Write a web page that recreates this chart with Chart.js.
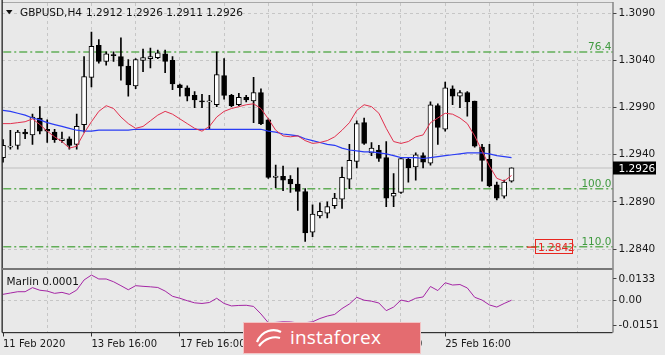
<!DOCTYPE html>
<html><head><meta charset="utf-8">
<script src="https://cdn.jsdelivr.net/npm/chart.js@4.4.1/dist/chart.umd.min.js"></script>
<style>
html,body{margin:0;padding:0;background:#e9e9e9;}
#wrap{position:relative;width:665px;height:355px;overflow:hidden;background:#e9e9e9;}
#c1{position:absolute;left:0;top:0;}
#c2{position:absolute;left:0;top:270px;}
#wm{position:absolute;left:243px;top:322px;width:178px;height:32px;box-sizing:border-box;background:#e46c70;border:1px solid #f3c4c5;z-index:5;}
#wm span{position:absolute;left:46px;top:0;line-height:29px;color:#fff;font-family:"Open Sans",sans-serif;font-size:19px;letter-spacing:0.2px;}
#wm svg{position:absolute;left:10px;top:3px;}
</style></head>
<body><div id="wrap">
<canvas id="c1" width="665" height="270"></canvas>
<canvas id="c2" width="665" height="85"></canvas>
<div id="wm"><svg width="30" height="24" viewBox="0 0 30 24"><path d="M3 16 C8 4, 20 2, 27 6" stroke="#fff" stroke-width="2.2" fill="none"/><path d="M5 20 C11 12, 20 10, 26 12" stroke="#fff" stroke-width="2.2" fill="none"/></svg><span>instaforex</span></div>
</div>
<script>
// ---- data ----
const SYMBOL = 'GBPUSD,H4';
const OPEN  = [1.2937,1.2948,1.2950,1.2964,1.2961,1.2979,1.2967,1.2964,1.2955,1.2957,1.2951,1.2972,1.3022,1.3056,1.3039,1.3046,1.3044,1.3034,1.3013,1.3040,1.3042,1.3043,1.3047,1.3040,1.3014,1.3011,1.3003,1.2997,1.2996,1.2993,1.3024,1.3003,1.2993,1.3001,1.2997,1.3006,1.2977,1.2916,1.2917,1.2914,1.2909,1.2901,1.2858,1.2875,1.2878,1.2886,1.2893,1.2914,1.2933,1.2974,1.2942,1.2945,1.2937,1.2896,1.2900,1.2935,1.2927,1.2939,1.2931,1.2992,1.2967,1.3010,1.3002,1.3006,1.2997,1.2948,1.2935,1.2908,1.2896,1.2912];
const HIGH  = [1.2956,1.2966,1.2966,1.2967,1.2983,1.2991,1.2977,1.2967,1.2964,1.2959,1.2983,1.3044,1.3070,1.3062,1.3049,1.3049,1.3064,1.3041,1.3042,1.3052,1.3053,1.3051,1.3051,1.3044,1.3015,1.3013,1.3007,1.3004,1.3003,1.3049,1.3042,1.3004,1.3005,1.3003,1.3022,1.3010,1.2978,1.2929,1.2928,1.2918,1.2926,1.2904,1.2887,1.2889,1.2890,1.2899,1.2927,1.2951,1.2976,1.2979,1.2953,1.2950,1.2954,1.2920,1.2937,1.2937,1.2942,1.2942,1.2996,1.2994,1.3017,1.3013,1.3008,1.3007,1.2997,1.2951,1.2951,1.2911,1.2913,1.2926];
const LOW   = [1.2932,1.2946,1.2946,1.2957,1.2951,1.2962,1.2953,1.2953,1.2953,1.2946,1.2946,1.2964,1.3012,1.3037,1.3035,1.3039,1.3019,1.3002,1.3010,1.3028,1.3032,1.3042,1.3027,1.3009,1.3002,1.2997,1.2990,1.2990,1.2967,1.2991,1.2999,1.2991,1.2992,1.2996,1.2974,1.2972,1.2915,1.2905,1.2902,1.2900,1.2881,1.2848,1.2853,1.2873,1.2873,1.2883,1.2883,1.2904,1.2926,1.2951,1.2939,1.2933,1.2885,1.2885,1.2899,1.2911,1.2913,1.2926,1.2929,1.2951,1.2965,1.2993,1.2990,1.2981,1.2948,1.2912,1.2906,1.2892,1.2894,1.2911];
const CLOSE = [1.2950,1.2949,1.2964,1.2962,1.2980,1.2965,1.2965,1.2956,1.2957,1.2950,1.2970,1.3023,1.3055,1.3039,1.3047,1.3045,1.3034,1.3014,1.3041,1.3043,1.3044,1.3048,1.3039,1.3015,1.3011,1.3002,1.2998,1.2996,1.2997,1.3025,1.3003,1.2992,1.3001,1.2998,1.3006,1.2973,1.2916,1.2917,1.2913,1.2909,1.2901,1.2857,1.2877,1.2880,1.2885,1.2894,1.2916,1.2934,1.2973,1.2952,1.2947,1.2936,1.2894,1.2899,1.2936,1.2926,1.2940,1.2932,1.2993,1.2969,1.3011,1.3002,1.3006,1.2996,1.2949,1.2934,1.2907,1.2894,1.2911,1.2926];
const RED_LINE  = [1.2973,1.2973,1.2974,1.2975,1.2978,1.2972,1.2965,1.2959,1.2954,1.2947,1.2949,1.2963,1.2975,1.2986,1.2992,1.2989,1.2980,1.2973,1.2968,1.2970,1.2976,1.2982,1.2986,1.2983,1.2978,1.2973,1.2968,1.2965,1.2970,1.2980,1.2986,1.2989,1.2991,1.2993,1.2994,1.2989,1.2978,1.2966,1.2960,1.2959,1.2960,1.2955,1.2952,1.2953,1.2955,1.2959,1.2966,1.2974,1.2987,1.2993,1.2991,1.2984,1.2968,1.2954,1.2952,1.2954,1.2959,1.2961,1.2974,1.2979,1.2984,1.2983,1.2979,1.2973,1.2960,1.2944,1.2928,1.2915,1.2912,1.2918];
const BLUE_LINE = [1.2987,1.2986,1.2984,1.2982,1.2979,1.2977,1.2974,1.2972,1.2970,1.2968,1.2966,1.2965,1.2965,1.2966,1.2966,1.2966,1.2966,1.2966,1.2967,1.2967,1.2967,1.2967,1.2967,1.2967,1.2967,1.2967,1.2967,1.2967,1.2967,1.2967,1.2967,1.2967,1.2967,1.2967,1.2967,1.2967,1.2965,1.2964,1.2962,1.2961,1.2960,1.2957,1.2955,1.2953,1.2951,1.2950,1.2947,1.2945,1.2944,1.2943,1.2943,1.2942,1.2941,1.2939,1.2937,1.2937,1.2937,1.2936,1.2937,1.2938,1.2939,1.2940,1.2941,1.2942,1.2942,1.2942,1.2941,1.2939,1.2938,1.2937];
const MARLIN    = [0.0039,0.0047,0.0055,0.0055,0.0080,0.0064,0.0059,0.0045,0.0051,0.0039,0.0065,0.0127,0.0157,0.0133,0.0133,0.0116,0.0092,0.0067,0.0092,0.0088,0.0085,0.0081,0.0059,0.0027,0.0015,0.0000,-0.0013,-0.0017,-0.0011,0.0015,-0.0017,-0.0032,-0.0029,-0.0028,-0.0035,-0.0081,-0.0135,-0.0133,-0.0129,-0.0130,-0.0136,-0.0135,-0.0129,-0.0109,-0.0094,-0.0084,-0.0048,-0.0020,0.0021,0.0003,-0.0003,-0.0014,-0.0061,-0.0039,0.0004,-0.0006,0.0015,0.0023,0.0087,0.0062,0.0110,0.0096,0.0099,0.0078,0.0021,0.0004,-0.0026,-0.0039,-0.0017,0.0003];
const PRICE_TICKS  = [1.3090,1.3040,1.2990,1.2940,1.2890,1.2840];
const MARLIN_TICKS = [0.0133,0,-0.0151];
const MARLIN_TICK_LABELS = ['0.0133','0.00','-0.0151'];
const TIME_LABEL_BARS = [0,12,24,36,48,60];
const TIME_LABELS = ['11 Feb 2020','13 Feb 16:00','17 Feb 16:00','19 Feb 16:00','21 Feb 16:00','25 Feb 16:00'];
const FIB_LEVELS = [1.3049,1.2904,1.28425];
const FIB_LABELS = ['76.4','100.0','110.0'];
const MARKER_PRICE = 1.2842;
const MARKER_BARS = [71.1,72.4];
const IND_NAME = 'Marlin 0.0001';

// ---- axis ranges (view) ----
const X_MIN = -0.136, X_MAX = 82.70;
const P_MIN = 1.28199, P_MAX = 1.31009;
const M_MIN = -0.01946, M_MAX = 0.01818;
const FONT = '"DejaVu Sans"';
const BG = '#e9e9e9';

const N = OPEN.length;
const idx = OPEN.map((_, i) => i);
const gridBars = []; for (let b = 0; b <= 78; b += 6) gridBars.push(b);

function hline(v, color, w, dash, order, x0, x1) {
  return {type:'line', data:[{x:x0, y:v},{x:x1, y:v}], borderColor:color, borderWidth:w,
          borderDash:dash, pointRadius:0, order:order};
}
function noPadY(s, w){ s.width = w; s.paddingTop = 0; s.paddingBottom = 0; }
function noPadX(s, h){ s.height = h; s.paddingLeft = 0; s.paddingRight = 0; }

const bgPlugin = {
  id:'bg',
  beforeDraw(chart){ const c = chart.ctx; c.save(); c.fillStyle = BG; c.fillRect(0,0,chart.width,chart.height); c.restore(); }
};

const overlay1 = {
  id:'overlay1',
  afterDraw(chart){
    const c = chart.ctx, a = chart.chartArea, y = chart.scales.y;
    c.save();
    // frame
    c.fillStyle = '#a8a8a8'; c.fillRect(2, 2, a.right-2, 1);
    c.fillStyle = '#222'; c.fillRect(1.5, 0, 1.3, chart.height);
    c.fillStyle = '#555'; c.fillRect(a.right, 2, 1, chart.height-2);
    c.fillStyle = '#777'; c.fillRect(2, 268, a.right-2, 2);
    // fib labels
    c.font = '10.5px ' + FONT; c.fillStyle = '#3f9a3f'; c.textAlign = 'right'; c.textBaseline = 'alphabetic';
    FIB_LEVELS.forEach((L,k) => c.fillText(FIB_LABELS[k], a.right - 1, y.getPixelForValue(L) - 2));
    // marker label box
    const m = y.getPixelForValue(MARKER_PRICE);
    c.strokeStyle = '#e8261f'; c.lineWidth = 1; c.strokeRect(535.5, Math.round(m)-7.5, 37, 14);
    c.fillStyle = '#e8261f'; c.textAlign = 'left'; c.fillText(MARKER_PRICE.toFixed(4), 538, Math.round(m)+4);
    // last price box
    const lp = y.getPixelForValue(CLOSE[N-1]);
    c.fillStyle = '#000'; c.fillRect(a.right+0.5, Math.round(lp)-6.5, 43, 13);
    c.fillStyle = '#fff'; c.fillText(CLOSE[N-1].toFixed(4), a.right+6, Math.round(lp)+4);
    // header
    c.fillStyle = '#111';
    c.beginPath(); c.moveTo(6,10); c.lineTo(12.5,10); c.lineTo(9.25,14.3); c.closePath(); c.fill();
    c.font = '10.5px ' + FONT;
    c.fillText(SYMBOL, 20, 16);
    c.fillText([OPEN[N-1],HIGH[N-1],LOW[N-1],CLOSE[N-1]].map(v=>v.toFixed(4)).join(' '), 86, 16);
    c.restore();
  }
};

const overlay2 = {
  id:'overlay2',
  afterDraw(chart){
    const c = chart.ctx, a = chart.chartArea;
    c.save();
    c.fillStyle = '#222'; c.fillRect(1.5, 0, 1.3, a.bottom);
    c.fillStyle = '#555'; c.fillRect(a.right, 0, 1, a.bottom);
    c.fillStyle = '#333'; c.fillRect(2, a.bottom-0.5, a.right-2, 1.2);
    c.fillStyle = '#111'; c.font = '10.5px ' + FONT; c.textBaseline = 'alphabetic';
    c.fillText(IND_NAME, 6.5, 15);
    c.restore();
  }
};

const chart1 = new Chart(document.getElementById('c1'), {
  type:'bar',
  data:{ datasets:[
    ...FIB_LEVELS.map(L => hline(L, '#62ae58', 1.5, [8,3,2,3], 20, X_MIN-2, X_MAX+2)),
    hline(CLOSE[N-1], '#cdcdcd', 1.5, [], 19, X_MIN-2, X_MAX+2),
    {type:'line', data:MARKER_BARS.map(b=>({x:b, y:MARKER_PRICE})), borderColor:'#e8261f', borderWidth:1.2, pointRadius:0, order:18},
    {type:'bar', data:idx.map(i=>({x:i, y:[LOW[i], HIGH[i]]})), backgroundColor:'#000', borderWidth:0,
     barThickness:1, grouped:false, order:10},
    {type:'bar', data:idx.map(i=>({x:i, y:[OPEN[i], CLOSE[i]]})),
     backgroundColor:(ctx)=>{ const i = ctx.dataIndex; return (i!==undefined && CLOSE[i] > OPEN[i]) ? '#ffffff' : '#000000'; },
     borderColor:'#000', borderWidth:1, borderSkipped:false, minBarLength:1.2,
     barThickness:5, grouped:false, order:9},
    {type:'line', data:idx.map(i=>({x:i, y:BLUE_LINE[i]})), borderColor:'#2a3cf4', borderWidth:1.2, pointRadius:0, order:2},
    {type:'line', data:idx.map(i=>({x:i, y:RED_LINE[i]})), borderColor:'#e2304e', borderWidth:1, pointRadius:0, order:1}
  ]},
  options:{
    responsive:false, devicePixelRatio:1, animation:false,
    layout:{padding:{left:2, top:3, right:0, bottom:2}},
    plugins:{legend:{display:false}, tooltip:{enabled:false}},
    scales:{
      x:{type:'linear', min:X_MIN, max:X_MAX, offset:false,
         grid:{offset:false, color:(ctx)=> (ctx.tick && ctx.tick.value===0) ? 'rgba(0,0,0,0)' : '#c6c6c6', drawTicks:false, lineWidth:1},
         border:{display:false, dash:[3,3]},
         ticks:{display:false},
         afterBuildTicks:(s)=>{ s.ticks = gridBars.map(v=>({value:v})); },
         afterFit:(s)=>noPadX(s, 0)},
      y:{type:'linear', position:'right', min:P_MIN, max:P_MAX,
         grid:{color:'#c6c6c6', tickColor:'#444', tickLength:4, tickBorderDash:[], lineWidth:1},
         border:{display:false, dash:[3,3]},
         ticks:{font:{family:'DejaVu Sans', size:10.5}, color:'#1a1a1a', padding:2, callback:(v)=>v.toFixed(4)},
         afterBuildTicks:(s)=>{ s.ticks = PRICE_TICKS.map(v=>({value:v})); },
         afterFit:(s)=>noPadY(s, 52.5)}
    }
  },
  plugins:[bgPlugin, overlay1]
});

const labelAt = {}; TIME_LABEL_BARS.forEach((b,k)=> labelAt[b] = TIME_LABELS[k]);

const chart2 = new Chart(document.getElementById('c2'), {
  type:'line',
  data:{ datasets:[
    {data:idx.map(i=>({x:i, y:MARLIN[i]})), borderColor:'#a526a5', borderWidth:1, pointRadius:0}
  ]},
  options:{
    responsive:false, devicePixelRatio:1, animation:false,
    layout:{padding:{left:2, top:1, right:0, bottom:0}},
    plugins:{legend:{display:false}, tooltip:{enabled:false}},
    scales:{
      x:{type:'linear', min:X_MIN, max:X_MAX, offset:false,
         grid:{offset:false, color:(ctx)=> (ctx.tick && ctx.tick.value===0) ? 'rgba(0,0,0,0)' : '#c6c6c6',
               tickColor:(ctx)=> (ctx.tick && labelAt[ctx.tick.value]!==undefined) ? '#333' : 'rgba(0,0,0,0)',
               tickLength:4, tickBorderDash:[], lineWidth:1},
         border:{display:false, dash:[3,3]},
         ticks:{autoSkip:false, maxRotation:0, minRotation:0, align:'start', padding:2,
                font:{family:'DejaVu Sans', size:10}, color:'#1a1a1a',
                callback:(v)=> labelAt[v]!==undefined ? labelAt[v] : ''},
         afterBuildTicks:(s)=>{ s.ticks = gridBars.map(v=>({value:v})); },
         afterFit:(s)=>noPadX(s, 22.5)},
      y:{type:'linear', position:'right', min:M_MIN, max:M_MAX,
         grid:{color:(ctx)=> (ctx.tick && ctx.tick.value===0) ? '#c6c6c6' : 'rgba(0,0,0,0)', tickColor:'#444', tickLength:4, tickBorderDash:[], lineWidth:1},
         border:{display:false, dash:[3,3]},
         ticks:{font:{family:'DejaVu Sans', size:10.5}, color:'#1a1a1a', padding:2,
                callback:(v)=>{ const k = MARLIN_TICKS.indexOf(v); return k>=0 ? MARLIN_TICK_LABELS[k] : ''; }},
         afterBuildTicks:(s)=>{ s.ticks = MARLIN_TICKS.map(v=>({value:v})); },
         afterFit:(s)=>noPadY(s, 52.5)}
    }
  },
  plugins:[bgPlugin, overlay2]
});
</script>
</body></html>
